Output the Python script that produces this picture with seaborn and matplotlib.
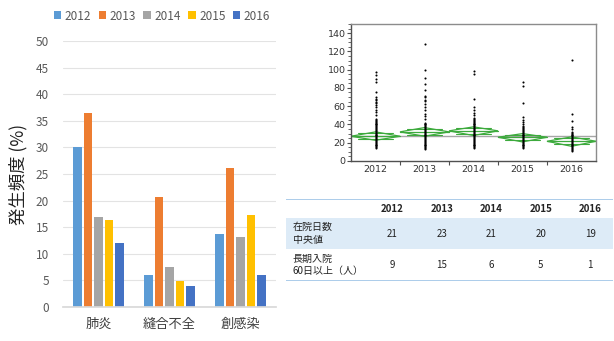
import matplotlib
matplotlib.use('Agg')
from matplotlib import pyplot as plt
from matplotlib.patches import Polygon
from matplotlib.ticker import MultipleLocator, FixedLocator
import seaborn as sns
import pandas as pd
import numpy as np

# bar chart data
years = ['2012', '2013', '2014', '2015', '2016']
year_colours = ['#5B9BD5', '#ED7D31', '#A5A5A5', '#FFC000', '#4472C4']
complications = ['肺炎', '縫合不全', '創感染']
rate_2012 = [30.0, 6.0, 13.7]
rate_2013 = [36.5, 20.6, 26.2]
rate_2014 = [17.0, 7.6, 13.2]
rate_2015 = [16.3, 4.8, 17.3]
rate_2016 = [12.0, 4.0, 6.0]

# length of stay (days) per patient
stay_2012 = [97, 94, 90, 86, 75, 70, 68, 67, 65, 63, 61, 59, 56, 54, 50, 46, 45, 44, 43, 42, 41,
             40, 39, 38, 37, 36, 35, 34, 33, 32, 31, 30, 29, 28, 27, 26, 25, 24, 23, 22, 21, 20,
             19, 18, 17, 16, 15, 14]
stay_2013 = [128, 100, 91, 84, 78, 71, 70, 67, 66, 62, 59, 56, 52, 49, 46, 42, 41, 40, 39, 38, 37,
             36, 35, 34, 33, 32, 31, 30, 29, 28, 27, 26, 25, 24, 23, 22, 21, 20, 19, 18, 17, 16,
             15, 14, 13]
stay_2014 = [99, 95, 68, 59, 56, 53, 50, 47, 46, 45, 44, 43, 42, 41, 40, 39, 38, 37, 36, 35, 34,
             33, 32, 31, 30, 29, 28, 27, 26, 25, 24, 23, 22, 21, 20, 19, 18, 17, 16, 15, 14]
stay_2015 = [86, 82, 63, 48, 45, 43, 41, 38, 37, 36, 35, 34, 33, 32, 31, 30, 29, 28, 27, 26, 25,
             24, 23, 22, 21, 20, 19, 18, 17, 16, 15, 14]
stay_2016 = [111, 51, 44, 37, 35, 32, 31, 30, 29, 28, 27, 26, 25, 24, 23, 22, 21, 20, 19, 18, 17,
             16, 15, 14, 13, 12, 11]

# means diamonds
stay_mean = [27.1, 31.9, 33.0, 26.0, 21.6]
stay_upper = [31.9, 36.6, 37.4, 30.0, 26.4]
stay_lower = [22.7, 27.1, 27.9, 20.9, 16.1]
grand_mean = 27.5

# table
table_columns = years
table_rows = ['在院日数\n中央値', '長期入院\n60日以上（人）']
median_stay = [21, 23, 21, 20, 19]
long_stay_count = [9, 15, 6, 5, 1]

sns.set_theme(style='white')
plt.rcParams['font.family'] = ['Noto Sans CJK JP', 'DejaVu Sans']

fig = plt.figure(figsize=(6.14, 3.41), dpi=100)
fig.patch.set_facecolor('white')

# ---------- bar chart ----------
bar_df = pd.DataFrame({
    'complication': complications * 5,
    'year': np.repeat(years, 3),
    'rate': rate_2012 + rate_2013 + rate_2014 + rate_2015 + rate_2016,
})
ax1 = fig.add_axes([63 / 614, 1 - 307 / 341, 213 / 614, 266 / 341])
sns.barplot(data=bar_df, x='complication', y='rate', hue='year', order=complications,
            hue_order=years, palette=year_colours, width=0.74, gap=0.2, errorbar=None,
            linewidth=0, saturation=1, ax=ax1)
ax1.set_xlim(-0.5, 2.5)
ax1.set_ylim(0, 50)
ax1.yaxis.set_major_locator(MultipleLocator(5))
ax1.grid(axis='y', color='#E3E3E3', linewidth=0.8)
ax1.set_axisbelow(True)
for s in ax1.spines.values():
    s.set_visible(False)
ax1.spines['bottom'].set_visible(True)
ax1.spines['bottom'].set_color('#D9D9D9')
ax1.tick_params(axis='y', length=0, pad=10, labelsize=8.5, labelcolor='#595959')
ax1.tick_params(axis='x', length=0, pad=8, labelsize=9.5, labelcolor='#404040')
ax1.set_xlabel('')
ax1.set_ylabel('')
handles, labels = ax1.get_legend_handles_labels()
ax1.legend_.remove()
fig.legend(handles, labels, loc='center', bbox_to_anchor=(162 / 614, 1 - 16 / 341), ncol=5,
           frameon=False, fontsize=8.5, labelcolor='#595959', handlelength=0.65,
           handleheight=0.65, handletextpad=0.3, columnspacing=0.6)
fig.text(18 / 614, 1 - 174 / 341, '発生頻度 (%)', rotation=90, ha='center', va='center',
         fontsize=12.5, color='#222222')

# ---------- dot plot with means diamonds ----------
stay_lists = [stay_2012, stay_2013, stay_2014, stay_2015, stay_2016]
stay_df = pd.DataFrame({
    'year': np.concatenate([[y] * len(v) for y, v in zip(years, stay_lists)]),
    'days': np.concatenate(stay_lists),
})
ax2 = fig.add_axes([351 / 614, 1 - 161 / 341, 245 / 614, 137 / 341])
ax2.axhline(grand_mean, color='#A6A6A6', linewidth=1, zorder=1)
for i in range(len(years)):
    diamond = Polygon([(i - 0.5, stay_mean[i]), (i, stay_upper[i]), (i + 0.5, stay_mean[i]),
                       (i, stay_lower[i])], closed=True, fill=False, edgecolor='#3DAA3D',
                      linewidth=0.9, zorder=2)
    ax2.add_patch(diamond)
    ax2.plot([i - 0.5, i + 0.5], [stay_mean[i], stay_mean[i]], color='#3DAA3D', linewidth=0.9, zorder=2)
    half = (stay_upper[i] - stay_mean[i]) / np.sqrt(2)
    for h in (stay_mean[i] + half, stay_mean[i] - half):
        ax2.plot([i - 0.35, i + 0.35], [h, h], color='#3DAA3D', linewidth=0.8, zorder=2)
sns.stripplot(data=stay_df, x='year', y='days', order=years, jitter=False, color='black',
              size=1.5, linewidth=0, ax=ax2, zorder=3)
ax2.set_xlim(-0.5, 4.5)
ax2.set_ylim(0, 150)
ax2.yaxis.set_major_locator(MultipleLocator(20))
ax2.yaxis.set_minor_locator(MultipleLocator(5))
ax2.xaxis.set_minor_locator(FixedLocator([0.5, 1.5, 2.5, 3.5]))
for s in ax2.spines.values():
    s.set_color('#8C8C8C')
    s.set_linewidth(1)
ax2.spines['left'].set_color('#505050')
ax2.spines['bottom'].set_color('#505050')
ax2.tick_params(axis='y', which='major', left=True, length=3, width=0.8, color='#505050',
                labelsize=6.8, labelcolor='#333333', pad=1)
ax2.tick_params(axis='y', which='minor', left=True, length=2, width=0.6, color='#505050')
ax2.tick_params(axis='x', which='major', bottom=False, length=0, labelsize=6.8,
                labelcolor='#333333', pad=3)
ax2.tick_params(axis='x', which='minor', bottom=True, length=3, width=0.8, color='#505050')
for lbl in ax2.get_xticklabels() + ax2.get_yticklabels():
    lbl.set_family(['DejaVu Sans'])
ax2.set_xlabel('')
ax2.set_ylabel('')

# ---------- table ----------
ax3 = fig.add_axes([286 / 614, 1 - 281 / 341, 327 / 614, 82 / 341])
ax3.set_xlim(0, 1)
ax3.set_ylim(0, 1)
ax3.axis('off')
row_edges = [1.0, 0.768, 0.39, 0.0]
ax3.axhspan(row_edges[2], row_edges[1], color='#DDEBF7', linewidth=0)
ax3.axhline(row_edges[0], color='#9DC3E6', linewidth=1.2)
ax3.axhline(row_edges[3], color='#9DC3E6', linewidth=1.2)
col_x = np.linspace(0.325, 0.93, len(table_columns))
header_y = (row_edges[0] + row_edges[1]) / 2
for x, col in zip(col_x, table_columns):
    ax3.text(x, header_y, col, ha='center', va='center', fontsize=7, fontweight='bold',
             color='#222222')
row_values = [median_stay, long_stay_count]
for r, (name, values) in enumerate(zip(table_rows, row_values)):
    y = (row_edges[r + 1] + row_edges[r + 2]) / 2
    ax3.text(0.021, y, name, ha='left', va='center', fontsize=7.2, color='#222222',
             linespacing=1.3)
    for x, v in zip(col_x, values):
        ax3.text(x, y, str(v), ha='center', va='center', fontsize=7, color='#222222')

fig.savefig('out.png', dpi=100, facecolor='white')
